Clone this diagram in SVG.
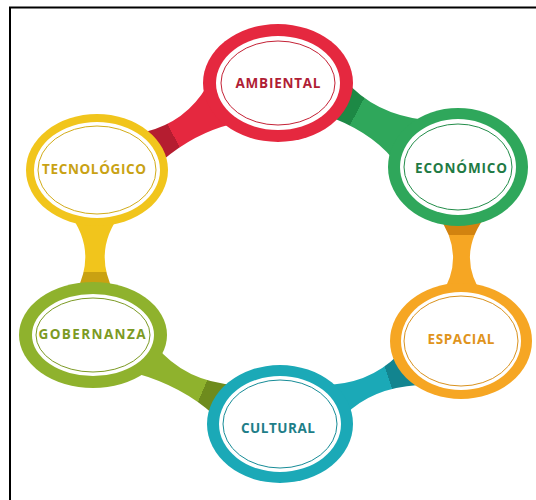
<svg xmlns="http://www.w3.org/2000/svg" width="536" height="500" viewBox="0 0 536 500">
<style>
.lbl{font-family:"Open Sans","Liberation Sans",sans-serif;font-weight:700;font-size:13.5px;text-anchor:middle}
.in{fill:#fff}
.thin{fill:none;stroke-width:1}
</style>
<defs>
<linearGradient id="gRed" gradientUnits="userSpaceOnUse" x1="152" y1="140" x2="215" y2="108"><stop offset="0" stop-color="#B51D30"/><stop offset="0.3" stop-color="#B51D30"/><stop offset="0.3" stop-color="#E5283F"/><stop offset="1" stop-color="#E5283F"/></linearGradient>
<linearGradient id="gGreen" gradientUnits="userSpaceOnUse" x1="342" y1="105" x2="408" y2="140"><stop offset="0" stop-color="#1D8945"/><stop offset="0.22" stop-color="#1D8945"/><stop offset="0.22" stop-color="#2FA75B"/><stop offset="1" stop-color="#2FA75B"/></linearGradient>
<linearGradient id="gYellow" gradientUnits="userSpaceOnUse" x1="0" y1="290" x2="0" y2="212"><stop offset="0" stop-color="#C9A112"/><stop offset="0.23" stop-color="#C9A112"/><stop offset="0.23" stop-color="#F1C51C"/><stop offset="1" stop-color="#F1C51C"/></linearGradient>
<linearGradient id="gOrange" gradientUnits="userSpaceOnUse" x1="0" y1="215" x2="0" y2="295"><stop offset="0" stop-color="#D2830F"/><stop offset="0.25" stop-color="#D2830F"/><stop offset="0.25" stop-color="#F6A623"/><stop offset="1" stop-color="#F6A623"/></linearGradient>
<linearGradient id="gOlive" gradientUnits="userSpaceOnUse" x1="220" y1="396" x2="145" y2="364"><stop offset="0" stop-color="#6E8B1D"/><stop offset="0.22" stop-color="#6E8B1D"/><stop offset="0.22" stop-color="#8FB22D"/><stop offset="1" stop-color="#8FB22D"/></linearGradient>
<linearGradient id="gTeal" gradientUnits="userSpaceOnUse" x1="406" y1="374" x2="338" y2="396"><stop offset="0" stop-color="#12848F"/><stop offset="0.25" stop-color="#12848F"/><stop offset="0.25" stop-color="#1BA9B7"/><stop offset="1" stop-color="#1BA9B7"/></linearGradient>
</defs>
<rect x="0" y="0" width="536" height="500" fill="#fff"/>
<path d="M10,500 V7.5 H536" fill="none" stroke="#000" stroke-width="2"/>
<g id="connectors">
<path d="M207,86 Q186,122 145,132 L163,160 Q195,133 232,124 Z" fill="url(#gRed)"/>
<path d="M345,80 Q374,114 425,120 L398,166 Q378,136 333,118 Z" fill="url(#gGreen)"/>
<path d="M68,212 Q98,250 76,292 L114,292 Q92,250 122,212 Z" fill="url(#gYellow)"/>
<path d="M436,213 Q468,255 440,297 L484,297 Q454,255 488,213 Z" fill="url(#gOrange)"/>
<path d="M155,345 Q185,382 236,385 L214,415 Q182,386 135,373 Z" fill="url(#gOlive)"/>
<path d="M322,385 Q368,385 398,355 L418,385 Q372,388 345,415 Z" fill="url(#gTeal)"/>
</g>
<g id="ambiental">
<ellipse cx="278" cy="83" rx="75" ry="59" fill="#E5283F"/>
<ellipse class="in" cx="278" cy="83" rx="62" ry="47"/>
<ellipse class="thin" cx="278" cy="83" rx="57" ry="42" stroke="#C42236"/>
<text class="lbl" x="278" y="88" fill="#B01E35" textLength="85" lengthAdjust="spacing">AMBIENTAL</text>
</g>
<g id="economico">
<ellipse cx="458" cy="167" rx="70" ry="59" fill="#2FA75B"/>
<ellipse class="in" cx="458" cy="167" rx="58" ry="48"/>
<ellipse class="thin" cx="458" cy="167" rx="54" ry="43" stroke="#238D4A"/>
<text class="lbl" x="461" y="173" fill="#1F7A44" textLength="92" lengthAdjust="spacing">ECONÓMICO</text>
</g>
<g id="tecnologico">
<ellipse cx="97" cy="170" rx="71" ry="56" fill="#F1C51C"/>
<ellipse class="in" cx="97" cy="170" rx="63" ry="48"/>
<ellipse class="thin" cx="97" cy="170" rx="59" ry="44" stroke="#D2AC1A"/>
<text class="lbl" x="94" y="174" fill="#C9A213" textLength="104" lengthAdjust="spacing">TECNOLÓGICO</text>
</g>
<g id="gobernanza">
<ellipse cx="93" cy="335" rx="74" ry="53" fill="#8FB22D"/>
<ellipse class="in" cx="93" cy="335" rx="61" ry="41"/>
<ellipse class="thin" cx="93" cy="335" rx="57" ry="37" stroke="#7C9A24"/>
<text class="lbl" x="92" y="339" fill="#7C9A24" textLength="107" lengthAdjust="spacing">GOBERNANZA</text>
</g>
<g id="cultural">
<ellipse cx="280" cy="424" rx="73" ry="59" fill="#1BA9B7"/>
<ellipse class="in" cx="280" cy="424" rx="61" ry="48"/>
<ellipse class="thin" cx="280" cy="424" rx="57" ry="44" stroke="#178C97"/>
<text class="lbl" x="278" y="433" fill="#1E7E88" textLength="74" lengthAdjust="spacing">CULTURAL</text>
</g>
<g id="espacial">
<ellipse cx="461" cy="341" rx="71" ry="58" fill="#F6A623"/>
<ellipse class="in" cx="461" cy="341" rx="60" ry="49"/>
<ellipse class="thin" cx="461" cy="341" rx="57" ry="45" stroke="#D9921E"/>
<text class="lbl" x="461" y="344" fill="#E0941C" textLength="67" lengthAdjust="spacing">ESPACIAL</text>
</g>
</svg>
